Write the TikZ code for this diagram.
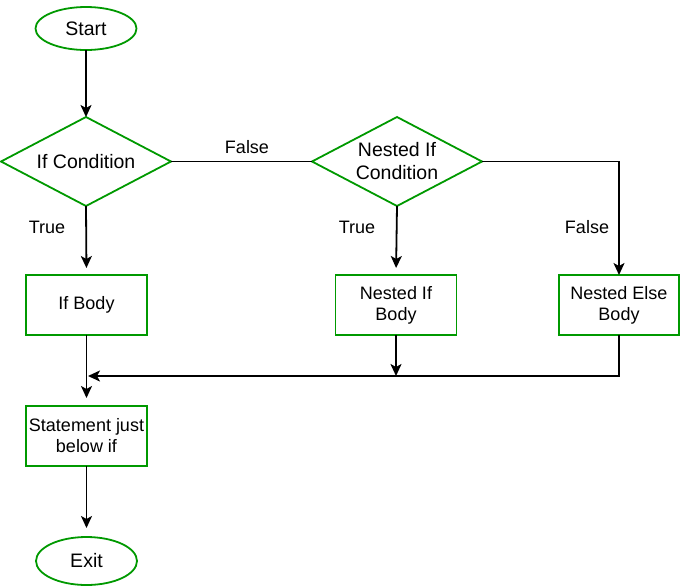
\documentclass[tikz,border=0pt]{standalone}
\usepackage{fontspec}
\setmainfont{Liberation Sans}
\usetikzlibrary{shapes.geometric,arrows.meta}
\definecolor{fgreen}{HTML}{009900}
\begin{document}
\begin{tikzpicture}[x=1pt,y=-1pt,
  shapebase/.style={draw=fgreen,line width=1.8pt,outer sep=0pt,inner sep=0pt,align=center,text=black},
  term/.style={shapebase,ellipse,minimum width=101pt,font=\fontsize{19.5}{23}\selectfont},
  decision/.style={shapebase,diamond,aspect=1.91,minimum width=170pt,minimum height=89pt,font=\fontsize{19.5}{23}\selectfont},
  process/.style={shapebase,rectangle,minimum width=121pt,minimum height=60pt,font=\fontsize{18}{21}\selectfont},
  conn/.style={line width=1.8pt,black},
  arr/.style={conn,-{Stealth[length=12pt,width=11pt,inset=3pt]}},
  lbl/.style={font=\fontsize{18}{21}\selectfont,inner sep=0pt}
]
\useasboundingbox (0,0) rectangle (680,587);

\node[term,minimum height=43pt] (start) at (86,28.5) {Start};
\node[decision] (ifc) at (86,161.5) {If Condition};
\node[decision] (nic) at (397,161.5) {Nested If\\Condition};
\node[process] (ifb) at (86.5,305) {If Body};
\node[process] (nib) at (396,305) {Nested If\\Body};
\node[process,minimum width=120pt] (neb) at (619,305) {Nested Else\\Body};
\node[process] (stm) at (86.5,436) {Statement just\\below if};
\node[term,minimum height=48pt] (exit) at (86.5,561) {Exit};

\node[lbl] (lf1) at (247,147) {False};
\node[lbl] (lt1) at (47,227) {True};
\node[lbl] (lt2) at (357,227) {True};
\node[lbl] (lf2) at (587,227) {False};

\coordinate (mj) at (88,376);

\draw[arr] (start.south) -- (ifc.north);
\draw[conn] (ifc.east) -- (nic.west);
\draw[arr] (nic.east) -| (neb.north);
\draw[arr,shorten >=7pt] (ifc.south) -- (ifb.north);
\draw[arr,shorten >=7pt] (nic.south) -- (nib.north);
\draw[arr] (neb.south) |- (mj);
\draw[arr] (nib.south) -- (nib.south |- mj);
\draw[arr,shorten >=8pt] (ifb.south) -- (stm.north);
\draw[arr,shorten >=9pt] (stm.south) -- (exit.north);
\end{tikzpicture}
\end{document}
